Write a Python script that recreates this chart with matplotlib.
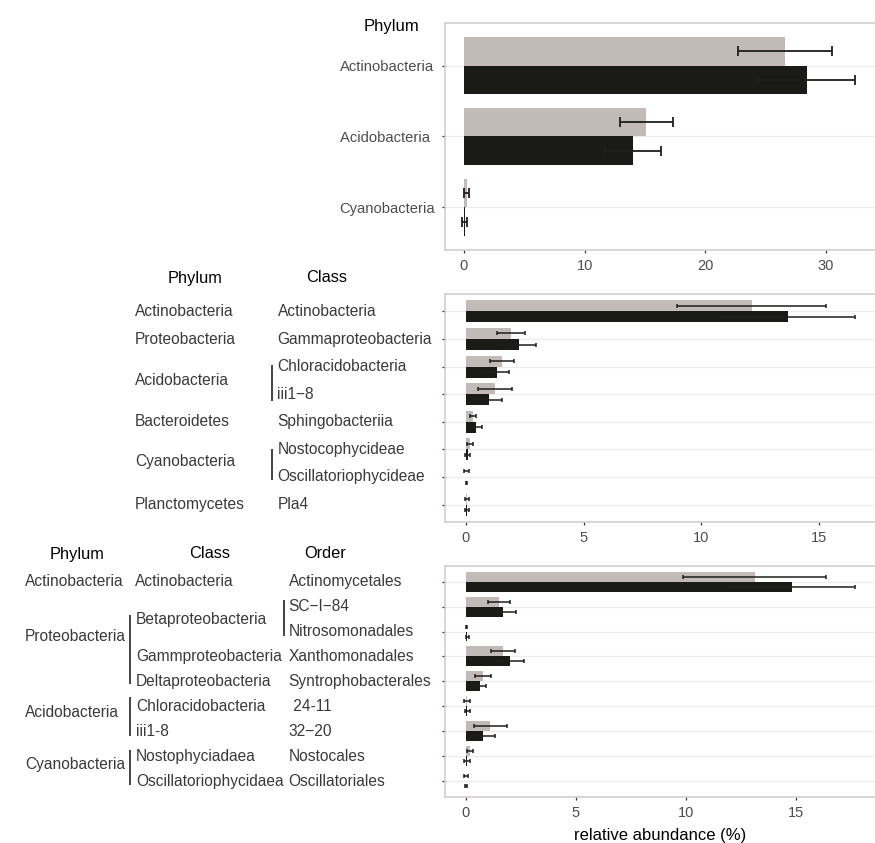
import numpy as np
import matplotlib.pyplot as plt
from matplotlib.transforms import blended_transform_factory

plt.rcParams['font.family'] = ['Liberation Sans', 'DejaVu Sans']

# --- phylum level ---
top_phylum = ["Actinobacteria", "Acidobacteria ", "Cyanobacteria"]
top_gray = [26.6, 15.1, 0.22]
top_gray_err = [3.9, 2.2, 0.22]
top_black = [28.4, 14.0, 0.08]
top_black_err = [4.0, 2.3, 0.2]

# --- class level ---
mid_phylum = ["Actinobacteria", "Proteobacteria", "Acidobacteria", "Bacteroidetes",
              "Cyanobacteria", "Planctomycetes"]
mid_class = ["Actinobacteria", "Gammaproteobacteria", "Chloracidobacteria", "iii1\u22128",
             "Sphingobacteriia", "Nostocophycideae", "Oscillatoriophycideae", "Pla4"]
mid_gray = [12.13, 1.92, 1.54, 1.24, 0.31, 0.17, 0.01, 0.05]
mid_gray_err = [3.16, 0.6, 0.51, 0.71, 0.12, 0.14, 0.1, 0.1]
mid_black = [13.66, 2.25, 1.30, 0.97, 0.42, 0.07, 0.02, 0.04]
mid_black_err = [2.86, 0.72, 0.51, 0.54, 0.25, 0.12, 0.03, 0.1]

# --- order level ---
bot_phylum = ["Actinobacteria", "Proteobacteria", "Acidobacteria", "Cyanobacteria"]
bot_class = ["Actinobacteria", "Betaproteobacteria", "Gammproteobacteria",
             "Deltaproteobacteria", "Chloracidobacteria", "iii1-8",
             "Nostophyciadaea", "Oscillatoriophycidaea"]
bot_order = ["Actinomycetales", "SC\u2212I\u221284", "Nitrosomonadales", "Xanthomonadales",
             "Syntrophobacterales", " 24-11", "32\u221220", "Nostocales", "Oscillatoriales"]
bot_gray = [13.13, 1.53, 0.03, 1.68, 0.77, 0.05, 1.12, 0.21, 0.02]
bot_gray_err = [3.25, 0.5, 0.03, 0.54, 0.37, 0.14, 0.74, 0.14, 0.08]
bot_black = [14.81, 1.71, 0.08, 2.03, 0.64, 0.08, 0.80, 0.07, 0.02]
bot_black_err = [2.86, 0.59, 0.05, 0.63, 0.27, 0.12, 0.55, 0.13, 0.03]

GRAY = "#c2bab7"
BLACK = "#1a1a17"
ERR = "#1e1e1c"
LABEL = "#3a3a3a"
W, H = 875, 843

fig = plt.figure(figsize=(W / 100, H / 100), dpi=100)
fig.patch.set_facecolor("white")


def fx(px):
    return px / W


def panel(top_px, bot_px, xlim, ylim, ticks, gray, gerr, black, berr, cap, elw):
    left = 445
    ax = fig.add_axes([fx(left), 1 - bot_px / H, 1 - fx(left), (bot_px - top_px) / H])
    y = np.arange(len(gray))
    ax.barh(y - 0.2, gray, height=0.4, color=GRAY, zorder=2)
    ax.barh(y + 0.2, black, height=0.4, color=BLACK, zorder=2)
    ax.errorbar(gray, y - 0.2, xerr=gerr, fmt="none", ecolor=ERR,
                elinewidth=elw, capsize=cap, capthick=elw, zorder=3)
    ax.errorbar(black, y + 0.2, xerr=berr, fmt="none", ecolor=ERR,
                elinewidth=elw, capsize=cap, capthick=elw, zorder=3)
    ax.set_xlim(*xlim)
    ax.set_ylim(*ylim)
    ax.set_xticks(ticks)
    ax.set_yticks(y)
    ax.set_yticklabels([])
    ax.grid(axis="y", color="#ececec", lw=0.9, zorder=0)
    ax.set_axisbelow(True)
    for s in ["left", "top", "bottom"]:
        ax.spines[s].set_color("#cfcaca")
        ax.spines[s].set_linewidth(1.1)
    ax.spines["right"].set_visible(False)
    ax.tick_params(axis="both", colors="#333333", length=2.5, width=0.9,
                   labelsize=10.5, labelcolor="#4d4d4d")
    ax.tick_params(axis="x", pad=4)
    ax.tick_params(axis="y", pad=5)
    return ax


def put(ax, px, row, s, ha="left", size=11.2, color=LABEL):
    tr = blended_transform_factory(fig.transFigure, ax.transData)
    ax.text(fx(px), row, s, transform=tr, ha=ha, va="center", fontsize=size,
            color=color, clip_on=False)


def bracket(ax, px, r0, r1):
    tr = blended_transform_factory(fig.transFigure, ax.transData)
    ax.plot([fx(px), fx(px)], [r0, r1], transform=tr, color="#333333", lw=1.3,
            clip_on=False, solid_capstyle="butt")


# phylum panel
ax1 = panel(23, 250, (-1.57, 34.07), (2.6, -0.6), [0, 10, 20, 30],
            top_gray, top_gray_err, top_black, top_black_err, 3.5, 1.3)
ax1.set_yticklabels(top_phylum, fontsize=10.6)
fig.text(fx(391.7), 1 - 26.7 / H, "Phylum", ha="center", va="center",
         fontsize=12, color="black")

# class panel
ax2 = panel(294.3, 521.7, (-0.89, 17.37), (7.62, -0.62), [0, 5, 10, 15],
            mid_gray, mid_gray_err, mid_black, mid_black_err, 1.7, 1.1)
fig.text(fx(195), 1 - 278 / H, "Phylum", ha="center", va="center",
         fontsize=11.8, color="black")
fig.text(fx(327), 1 - 278 / H, "Class", ha="center", va="center",
         fontsize=11.8, color="black")
mid_phylum_rows = [0, 1, 2.5, 4, 5.45, 7]
for s, r in zip(mid_phylum, mid_phylum_rows):
    put(ax2, 135, r, s)
for i, s in enumerate(mid_class):
    put(ax2, 277.5, i, s)
bracket(ax2, 271.7, 1.94, 3.23)
bracket(ax2, 271.7, 4.97, 6.12)

# order panel
ax3 = panel(566, 796.7, (-0.94, 18.59), (8.63, -0.63), [0, 5, 10, 15],
            bot_gray, bot_gray_err, bot_black, bot_black_err, 1.7, 1.1)
ax3.set_xlabel("relative abundance (%)", fontsize=12, color="black", labelpad=6)
for s, cx in zip(["Phylum", "Class", "Order"], [76.7, 209.3, 325]):
    fig.text(fx(cx), 1 - 554 / H, s, ha="center", va="center",
             fontsize=11.8, color="black")
bot_phylum_rows = [0, 2.2, 5.25, 7.35]
for s, r in zip(bot_phylum, bot_phylum_rows):
    put(ax3, 25, r, s)
bot_class_rows = [0, 1.5, 3, 4, 5, 6, 7, 8]
bot_class_x = [135, 136, 136, 136, 136, 136, 136, 136]
for s, r, x in zip(bot_class, bot_class_rows, bot_class_x):
    put(ax3, x, r, s)
for i, s in enumerate(bot_order):
    put(ax3, 288.7, i, s)
bracket(ax3, 130, 1.33, 4.12)
bracket(ax3, 130, 4.64, 6.18)
bracket(ax3, 130, 6.77, 8.17)
bracket(ax3, 284, 0.73, 2.19)

fig.savefig("out.png", dpi=100)
